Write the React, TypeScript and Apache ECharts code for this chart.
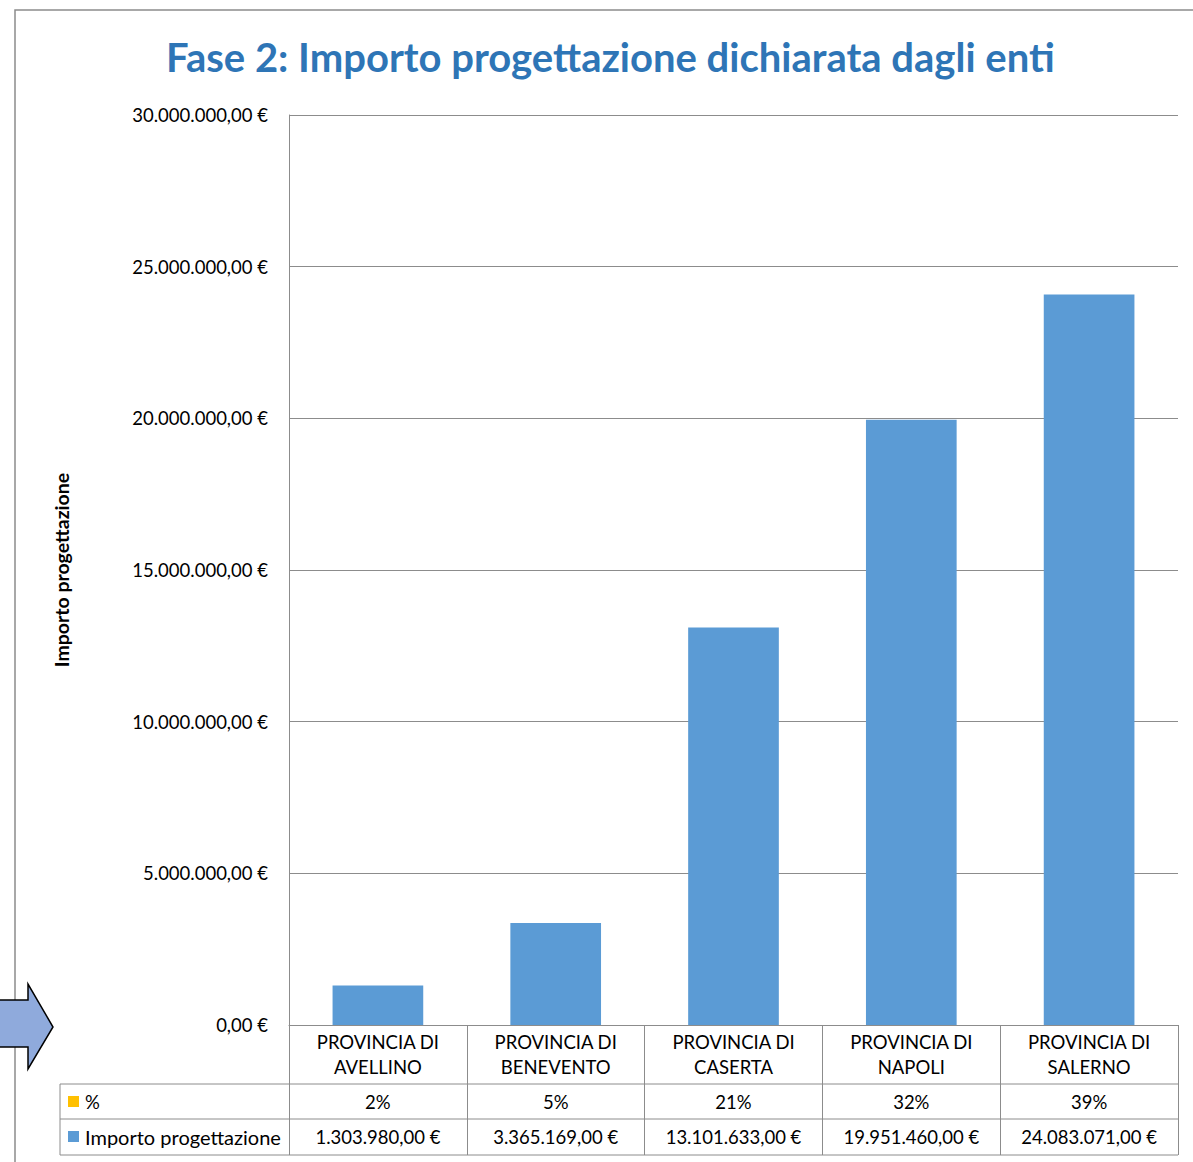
import React, { useEffect, useRef } from "react";
import * as echarts from "echarts";

const categories = [
  "PROVINCIA DI\nAVELLINO",
  "PROVINCIA DI\nBENEVENTO",
  "PROVINCIA DI\nCASERTA",
  "PROVINCIA DI\nNAPOLI",
  "PROVINCIA DI\nSALERNO",
];
const importoValues = [1303980, 3365169, 13101633, 19951460, 24083071];
const pctValues = [2, 5, 21, 32, 39];
const title = "Fase 2: Importo progettazione dichiarata dagli enti";
const yAxisName = "Importo progettazione";
const legendPct = "%";
const legendImporto = "Importo progettazione";

const FONT = "Lato, 'Open Sans', sans-serif";
const GRAY = "#8c8c8c";

function fmtEuro(v: number): string {
  const neg = v < 0;
  const abs = Math.abs(v);
  const intPart = Math.floor(abs).toString();
  const dec = Math.round((abs - Math.floor(abs)) * 100).toString().padStart(2, "0");
  const withDots = intPart.replace(/\B(?=(\d{3})+(?!\d))/g, ".");
  return (neg ? "-" : "") + withDots + "," + dec + " €";
}

export default function App() {
  const ref = useRef<HTMLDivElement>(null);
  useEffect(() => {
    document.body.style.margin = "0";
    if (!ref.current) return;
    const chart = echarts.init(ref.current, null, { renderer: "svg" });
    const left = 289;
    const right = 15;
    const top = 115;
    const bottom = 137;
    const tableL = 60;
    const tableR = 1178;
    const fs = 18.5;
    chart.setOption({
      animation: false,
      backgroundColor: "#ffffff",
      title: {
        text: title,
        left: 161,
        top: 32,
        textStyle: {
          fontFamily: FONT,
          fontWeight: "bold",
          fontSize: 40,
          color: "#2E75B6",
        },
      },
      grid: { left, right, top, bottom, containLabel: false },
      xAxis: [
        {
          type: "category",
          data: categories,
          axisLine: { show: true, lineStyle: { color: GRAY, width: 1 } },
          axisTick: { show: true, length: 130, interval: 0, lineStyle: { color: GRAY, width: 1 } },
          axisLabel: {
            interval: 0,
            margin: 4,
            fontFamily: FONT,
            fontSize: fs,
            lineHeight: 25,
            color: "#000",
          },
        },
        {
          type: "category",
          data: pctValues.map((p) => p + "%"),
          position: "bottom",
          offset: 67,
          axisLine: { show: false },
          axisTick: { show: false },
          axisLabel: {
            interval: 0,
            margin: 0,
            fontFamily: FONT,
            fontSize: fs,
            lineHeight: 20,
            color: "#000",
          },
        },
        {
          type: "category",
          data: importoValues.map((v) => fmtEuro(v)),
          position: "bottom",
          offset: 102,
          axisLine: { show: false },
          axisTick: { show: false },
          axisLabel: {
            interval: 0,
            margin: 0,
            fontFamily: FONT,
            fontSize: fs,
            lineHeight: 20,
            color: "#000",
          },
        },
      ],
      yAxis: {
        type: "value",
        min: 0,
        max: 30000000,
        interval: 5000000,
        name: yAxisName,
        nameLocation: "middle",
        nameGap: 218,
        nameRotate: 90,
        nameTextStyle: {
          fontFamily: FONT,
          fontWeight: "bold",
          fontSize: 19.5,
          color: "#000",
        },
        axisLine: { show: true, lineStyle: { color: GRAY, width: 1 } },
        axisTick: { show: false },
        splitLine: { show: true, lineStyle: { color: GRAY, width: 1 } },
        axisLabel: {
          margin: 21,
          fontFamily: FONT,
          fontSize: fs,
          color: "#000",
          formatter: (v: number) => fmtEuro(v),
        },
      },
      series: [
        {
          name: legendImporto,
          type: "bar",
          xAxisIndex: 0,
          data: importoValues,
          barWidth: "51%",
          itemStyle: { color: "#5B9BD5" },
        },
      ],
      graphic: [
        {
          type: "rect",
          shape: { x: 15, y: 10, width: 1250, height: 1250 },
          style: { fill: "none", stroke: GRAY, lineWidth: 1.5 },
          z: 0,
          silent: true,
        },
        {
          type: "line",
          shape: { x1: tableL, y1: 1084, x2: tableR, y2: 1084 },
          style: { stroke: GRAY, lineWidth: 1 },
        },
        {
          type: "line",
          shape: { x1: tableL, y1: 1119, x2: tableR, y2: 1119 },
          style: { stroke: GRAY, lineWidth: 1 },
        },
        {
          type: "line",
          shape: { x1: tableL, y1: 1155, x2: tableR, y2: 1155 },
          style: { stroke: GRAY, lineWidth: 1 },
        },
        {
          type: "line",
          shape: { x1: tableL, y1: 1084, x2: tableL, y2: 1155 },
          style: { stroke: GRAY, lineWidth: 1 },
        },
        {
          type: "rect",
          shape: { x: 68, y: 1096, width: 11, height: 11 },
          style: { fill: "#FFC000" },
        },
        {
          type: "text",
          x: 85,
          y: 1102,
          style: {
            text: legendPct,
            fontFamily: FONT,
            fontSize: fs,
            fill: "#000",
            verticalAlign: "middle",
            align: "left",
          },
        },
        {
          type: "rect",
          shape: { x: 68, y: 1131, width: 11, height: 11 },
          style: { fill: "#5B9BD5" },
        },
        {
          type: "text",
          x: 85,
          y: 1137,
          style: {
            text: legendImporto,
            fontFamily: FONT,
            fontSize: 20,
            fill: "#000",
            verticalAlign: "middle",
            align: "left",
          },
        },
        {
          type: "polygon",
          shape: {
            points: [
              [-5, 1000],
              [28, 1000],
              [28, 984],
              [53, 1027],
              [28, 1069],
              [28, 1047],
              [-5, 1047],
            ],
          },
          style: { fill: "#8FAADC", stroke: "#000", lineWidth: 1.5 },
          z: 10,
        },
      ],
    });
    return () => chart.dispose();
  }, []);
  return <div ref={ref} style={{ width: 1193, height: 1162 }} />;
}
